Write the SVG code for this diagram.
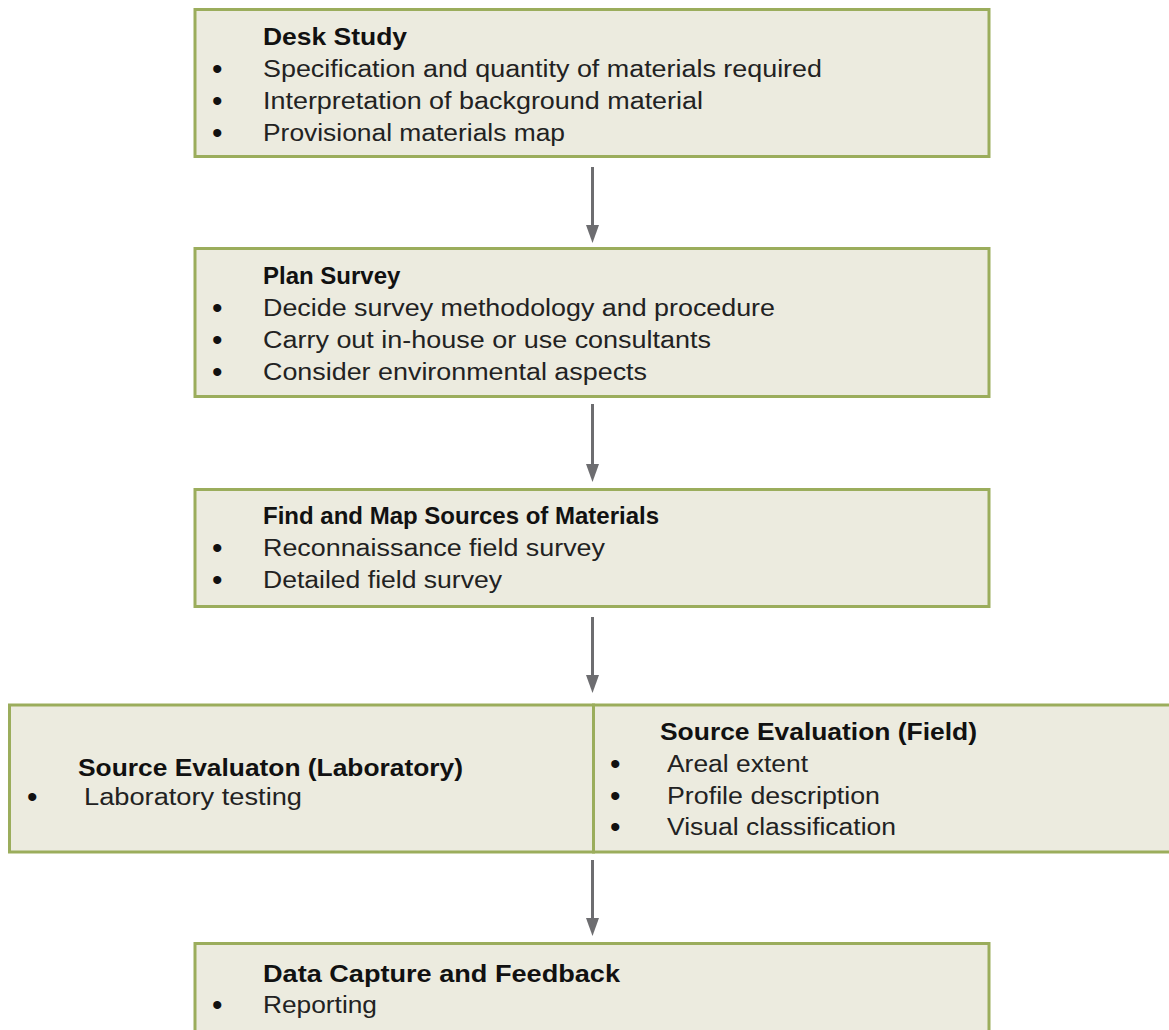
<svg xmlns="http://www.w3.org/2000/svg" width="1169" height="1030" viewBox="0 0 1169 1030">
<style>
.box{fill:#ecebdf;stroke:#9bad5c;stroke-width:3}
.t{font-family:"Liberation Sans",Arial,sans-serif;font-size:23px;fill:#222}
.b{font-weight:bold;font-size:24px;fill:#111}
.d{font-family:"Liberation Sans",Arial,sans-serif;font-size:30px;fill:#111}
.c{stroke:#6d6d70;stroke-width:3;fill:none}
</style>
<defs>
<marker id="ah" viewBox="0 0 18 13" refX="4" refY="6.5" markerWidth="18" markerHeight="13" markerUnits="userSpaceOnUse" orient="auto">
<path d="M0,0 L18,6.5 L0,13 z" fill="#6d6d70"/>
</marker>
</defs>
<rect width="1169" height="1030" fill="#fff"/>
<g id="connectors">
<line class="c" x1="592.5" y1="167" x2="592.5" y2="229" marker-end="url(#ah)"/>
<line class="c" x1="592.5" y1="404" x2="592.5" y2="468" marker-end="url(#ah)"/>
<line class="c" x1="592.5" y1="617" x2="592.5" y2="679" marker-end="url(#ah)"/>
<line class="c" x1="592.5" y1="860" x2="592.5" y2="922" marker-end="url(#ah)"/>
</g>
<g id="desk-study">
<rect class="box" x="195" y="9.5" width="794" height="147"/>
<text class="t b" x="263" y="45" textLength="144" lengthAdjust="spacingAndGlyphs">Desk Study</text>
<text class="d" x="212" y="79">•</text><text class="t" x="263" y="77" textLength="559" lengthAdjust="spacingAndGlyphs">Specification and quantity of materials required</text>
<text class="d" x="212" y="111">•</text><text class="t" x="263" y="109" textLength="440" lengthAdjust="spacingAndGlyphs">Interpretation of background material</text>
<text class="d" x="212" y="143">•</text><text class="t" x="263" y="141" textLength="302" lengthAdjust="spacingAndGlyphs">Provisional materials map</text>
</g>
<g id="plan-survey">
<rect class="box" x="195" y="248.5" width="794" height="148"/>
<text class="t b" x="263" y="284">Plan Survey</text>
<text class="d" x="212" y="318">•</text><text class="t" x="263" y="316" textLength="512" lengthAdjust="spacingAndGlyphs">Decide survey methodology and procedure</text>
<text class="d" x="212" y="350">•</text><text class="t" x="263" y="348" textLength="448" lengthAdjust="spacingAndGlyphs">Carry out in-house or use consultants</text>
<text class="d" x="212" y="382">•</text><text class="t" x="263" y="380" textLength="384" lengthAdjust="spacingAndGlyphs">Consider environmental aspects</text>
</g>
<g id="find-map">
<rect class="box" x="195" y="489.5" width="794" height="117"/>
<text class="t b" x="263" y="524">Find and Map Sources of Materials</text>
<text class="d" x="212" y="558">•</text><text class="t" x="263" y="556" textLength="342" lengthAdjust="spacingAndGlyphs">Reconnaissance field survey</text>
<text class="d" x="212" y="590">•</text><text class="t" x="263" y="588" textLength="239" lengthAdjust="spacingAndGlyphs">Detailed field survey</text>
</g>
<g id="source-lab">
<rect class="box" x="9.5" y="705" width="584" height="147"/>
<text class="t b" x="78" y="776" textLength="385" lengthAdjust="spacingAndGlyphs">Source Evaluaton (Laboratory)</text>
<text class="d" x="27" y="807">•</text><text class="t" x="84" y="805" textLength="218" lengthAdjust="spacingAndGlyphs">Laboratory testing</text>
</g>
<g id="source-field">
<rect class="box" x="593.5" y="705" width="580" height="147"/>
<text class="t b" x="660" y="740" textLength="317" lengthAdjust="spacingAndGlyphs">Source Evaluation (Field)</text>
<text class="d" x="610" y="774">•</text><text class="t" x="667" y="772" textLength="141" lengthAdjust="spacingAndGlyphs">Areal extent</text>
<text class="d" x="610" y="806">•</text><text class="t" x="667" y="804" textLength="213" lengthAdjust="spacingAndGlyphs">Profile description</text>
<text class="d" x="610" y="837">•</text><text class="t" x="667" y="835" textLength="229" lengthAdjust="spacingAndGlyphs">Visual classification</text>
</g>
<g id="data-capture">
<rect class="box" x="195" y="943.5" width="794" height="100"/>
<text class="t b" x="263" y="982" textLength="357" lengthAdjust="spacingAndGlyphs">Data Capture and Feedback</text>
<text class="d" x="212" y="1015">•</text><text class="t" x="263" y="1013" textLength="114" lengthAdjust="spacingAndGlyphs">Reporting</text>
</g>
</svg>
